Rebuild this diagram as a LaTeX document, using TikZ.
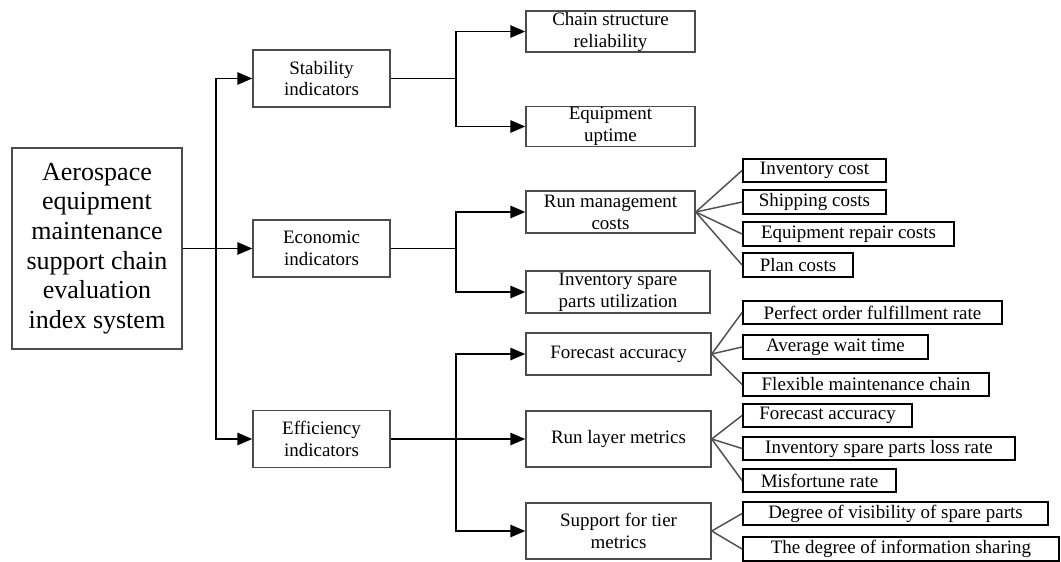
\documentclass[tikz,border=0pt]{standalone}
\usepackage{fontspec}
\setmainfont{Liberation Serif}
\usetikzlibrary{arrows.meta}
\tikzset{
  rootbox/.style={draw=black!70, line width=0.85pt, align=center, inner sep=0pt,
    minimum width=3.4cm, minimum height=4.02cm, font=\fontsize{14.8}{16.9}\selectfont},
  midbox/.style={draw=black!70, line width=0.85pt, align=center, inner sep=0pt,
    font=\fontsize{10.8}{12.5}\selectfont},
  leafbox/.style={draw=black, line width=1.1pt, inner sep=0pt, minimum height=0.47cm,
    font=\fontsize{10.8}{12.5}\selectfont},
  fan/.style={draw=black!68, line width=0.85pt},
}
\begin{document}
\begin{tikzpicture}[x=0.02cm, y=-0.02cm, line width=0.85pt,
    >={Triangle[length=0.3cm, width=0.25cm]}]
            \useasboundingbox (0,0) rectangle (1061,561);
            % root and first level
            \node [rootbox] (root) at (97,248.5) {Aerospace\\equipment\\maintenance\\support chain\\evaluation\\index system};
            \node [midbox, minimum width=2.74cm, minimum height=1.14cm] (stab) at (321.5,78.5) {Stability\\indicators};
            \node [midbox, minimum width=2.74cm, minimum height=1.14cm] (econ) at (321.5,248.5) {Economic\\indicators};
            \node [midbox, minimum width=2.74cm, minimum height=1.14cm] (eff) at (321.5,439) {Efficiency\\indicators};
            % second level
            \node [midbox, minimum width=3.38cm, minimum height=0.82cm] (chain) at (610.5,31.5) {Chain structure\\reliability};
            \node [midbox, minimum width=3.38cm, minimum height=0.8cm] (uptime) at (610.5,126.5) {Equipment\\uptime};
            \node [midbox, minimum width=3.38cm, minimum height=0.84cm] (runcost) at (610.5,212) {Run management\\costs};
            \node [midbox, minimum width=3.68cm, minimum height=0.84cm] (spare) at (618,292) {Inventory spare\\parts utilization};
            \node [midbox, minimum width=3.7cm, minimum height=0.84cm] (fcast) at (618.5,354) {Forecast accuracy};
            \node [midbox, minimum width=3.7cm, minimum height=1.12cm] (layer) at (618.5,439) {Run layer metrics};
            \node [midbox, minimum width=3.7cm, minimum height=1.12cm] (tier) at (618.5,531) {Support for tier\\metrics};
            % third level
            \node [leafbox, minimum width=2.86cm] (invcost) at (814.5,170.5) {Inventory cost};
            \node [leafbox, minimum width=2.86cm] (ship) at (814.5,202) {Shipping costs};
            \node [leafbox, minimum width=4.22cm] (repair) at (848.5,234) {Equipment repair costs};
            \node [leafbox, minimum width=2.2cm] (plan) at (798,265) {Plan costs};
            \node [leafbox, minimum width=5.18cm] (perfect) at (872.5,312.5) {Perfect order fulfillment rate};
            \node [leafbox, minimum width=3.7cm] (wait) at (835.5,347) {Average wait time};
            \node [leafbox, minimum width=4.92cm] (flex) at (866,384.5) {Flexible maintenance chain};
            \node [leafbox, minimum width=3.38cm] (fcast2) at (827.5,415.5) {Forecast accuracy};
            \node [leafbox, minimum width=5.44cm] (loss) at (879,448.5) {Inventory spare parts loss rate};
            \node [leafbox, minimum width=3.06cm] (misf) at (819.5,480.5) {Misfortune rate};
            \node [leafbox, minimum width=6.1cm] (vis) at (895.5,513.5) {Degree of visibility of spare parts};
            \node [leafbox, minimum width=6.32cm] (share) at (901,549) {The degree of information sharing};
            % junctions
            \coordinate (j0) at (216,248.5);
            \coordinate (j1) at (456,78.5);
            \coordinate (j2) at (456,248.5);
            \coordinate (j3) at (456,439);
            % tree connectors
            \draw (root.east) -- (j0);
            \draw [->] (j0) |- (stab.west);
            \draw [->] (j0) -- (econ.west);
            \draw [->] (j0) |- (eff.west);
            \draw (stab.east) -- (j1);
            \draw [->] (j1) |- (chain.west);
            \draw [->] (j1) |- (uptime.west);
            \draw (econ.east) -- (j2);
            \draw [->] (j2) |- (runcost.west);
            \draw [->] (j2) |- (spare.west);
            \draw (eff.east) -- (j3);
            \draw [->] (j3) |- (fcast.west);
            \draw [->] (j3) -- (layer.west);
            \draw [->] (j3) |- (tier.west);
            % fans
            \draw [fan] (runcost.east) -- (invcost.west);
            \draw [fan] (runcost.east) -- (ship.west);
            \draw [fan] (runcost.east) -- (repair.west);
            \draw [fan] (runcost.east) -- (plan.west);
            \draw [fan] (fcast.east) -- (perfect.west);
            \draw [fan] (fcast.east) -- (wait.west);
            \draw [fan] (fcast.east) -- (flex.west);
            \draw [fan] (layer.east) -- (fcast2.west);
            \draw [fan] (layer.east) -- (loss.west);
            \draw [fan] (layer.east) -- (misf.west);
            \draw [fan] (tier.east) -- (vis.west);
            \draw [fan] (tier.east) -- (share.west);
\end{tikzpicture}
\end{document}
